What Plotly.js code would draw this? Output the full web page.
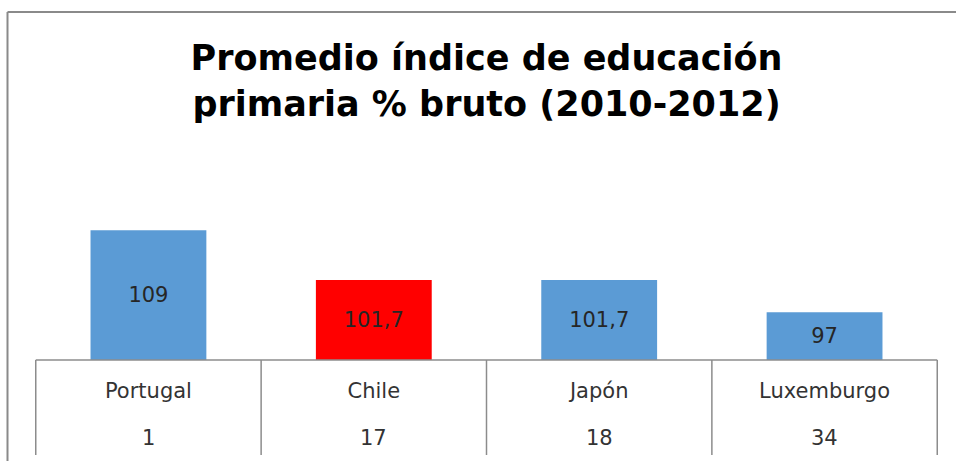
<!DOCTYPE html>
<html>
<head>
<meta charset="utf-8">
<script src="https://cdn.plot.ly/plotly-3.0.1.min.js"></script>
<style>html,body{margin:0;padding:0;background:#fff;}#chart{width:956px;height:461px;}</style>
</head>
<body>
<div id="chart"></div>
<script>
var categories = ["Portugal", "Chile", "Japón", "Luxemburgo"];
var values = [109, 101.7, 101.7, 97];
var ranks = ["1", "17", "18", "34"];
var barColors = ["#5B9BD5", "#FF0000", "#5B9BD5", "#5B9BD5"];
var titleText = "Promedio índice de educación<br>primaria % bruto (2010-2012)";

var axisMin = 90, axisMax = 120;
var W = 956, H = 461, ML = 35, MR = 18, MT = 155, MB = 101;
var PW = W - ML - MR, PH = H - MT - MB;
function xp(px) { return (px - ML) / PW; }
function yp(py) { return (H - MB - py) / PH; }
function fmt(v) { return String(v).replace(".", ","); }

var gridColor = "#8c8c8c";
var shapes = [];
shapes.push({type: "line", xref: "x", yref: "paper", x0: -0.5, x1: categories.length - 0.5, y0: 0, y1: 0, line: {color: gridColor, width: 1.5}});
for (var i = 0; i <= categories.length; i++) {
  shapes.push({type: "line", xref: "x", yref: "paper", x0: i - 0.5, x1: i - 0.5, y0: 0, y1: yp(455), line: {color: gridColor, width: 1.5}});
}
shapes.push({type: "line", xref: "paper", yref: "paper", x0: xp(7.5), x1: xp(7.5), y0: yp(12), y1: yp(470), line: {color: "#8a8a8a", width: 2}});
shapes.push({type: "line", xref: "paper", yref: "paper", x0: xp(7.5), x1: xp(970), y0: yp(12), y1: yp(12), line: {color: "#8a8a8a", width: 2}});

var annotations = categories.map(function (c, i) {
  return {xref: "x", yref: "paper", x: c, y: yp(438), text: ranks[i], showarrow: false,
    xanchor: "center", yanchor: "middle", font: {family: "DejaVu Sans", size: 21, color: "#333333"}};
});

var trace = {
  type: "bar",
  x: categories,
  base: axisMin,
  y: values.map(function (v) { return v - axisMin; }),
  text: values.map(fmt),
  marker: {color: barColors, line: {width: 0}},
  textposition: "inside",
  insidetextanchor: "middle",
  textangle: 0,
  constraintext: "none",
  insidetextfont: {family: "DejaVu Sans", size: 21, color: "#262626"},
  hoverinfo: "none"
};

var layout = {
  width: W, height: H,
  margin: {l: ML, r: MR, t: MT, b: MB, pad: 0},
  paper_bgcolor: "#ffffff", plot_bgcolor: "#ffffff",
  bargap: 0.486,
  showlegend: false,
  title: {
    text: titleText,
    font: {family: "DejaVu Sans", size: 35, color: "#000000", weight: "bold"},
    x: 0.5, xref: "paper", xanchor: "center",
    y: 1 - 70 / H, yref: "container", yanchor: "top"
  },
  xaxis: {
    type: "category",
    showgrid: false, zeroline: false, showline: false, ticks: "",
    tickfont: {family: "DejaVu Sans", size: 21, color: "#333333"},
    ticklabelstandoff: 16,
    fixedrange: true
  },
  yaxis: {
    range: [axisMin, axisMax],
    visible: false, showgrid: false, zeroline: false,
    fixedrange: true
  },
  shapes: shapes,
  annotations: annotations
};

Plotly.newPlot("chart", [trace], layout, {displayModeBar: false, staticPlot: true});
</script>
</body>
</html>
